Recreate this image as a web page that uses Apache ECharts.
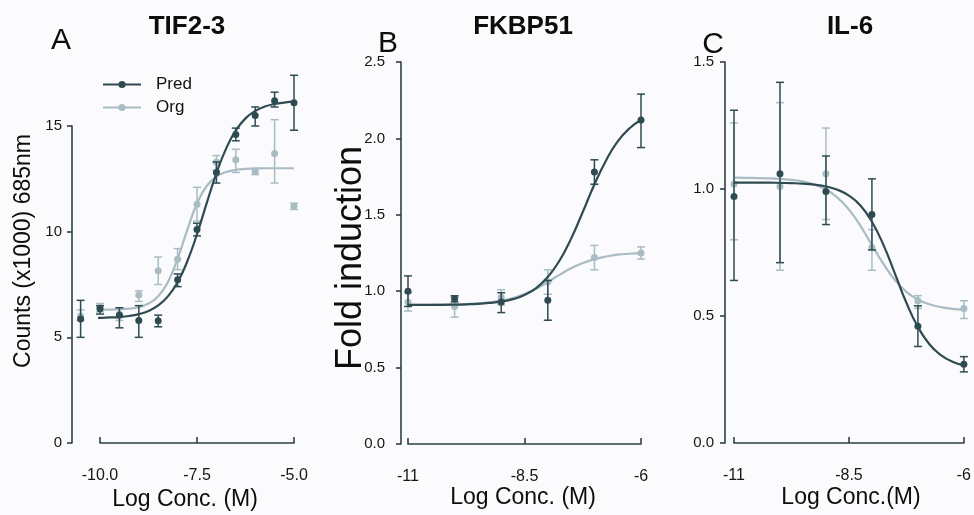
<!DOCTYPE html>
<html>
<head>
<meta charset="utf-8">
<script src="https://cdn.jsdelivr.net/npm/echarts@6/dist/echarts.min.js"></script>
<style>
html,body{margin:0;padding:0;background:#fbfbfd;}
#chart{width:974px;height:515px;}
</style>
</head>
<body>
<div id="chart"></div>
<script>
// ---------- Data ----------
const panelTitles = ['TIF2-3', 'FKBP51', 'IL-6'];
const panelLetters = ['A', 'B', 'C'];
const yAxisTitles = ['Counts (x1000) 685nm', 'Fold induction', ''];
const xAxisTitles = ['Log Conc. (M)', 'Log Conc. (M)', 'Log Conc.(M)'];
const seriesNames = ['Pred', 'Org'];

// Panel A (TIF2-3)
const xA = [-10.5, -10, -9.5, -9, -8.5, -8, -7.5, -7, -6.5, -6, -5.5, -5];
const predA   = [5.87, 6.35, 6.05, 5.80, 5.78, 7.72, 10.10, 12.80, 14.60, 15.50, 16.20, 16.10];
const predAHi = [6.75, 6.50, 6.40, 6.50, 6.05, 8.00, 10.40, 13.30, 14.90, 15.90, 16.60, 17.40];
const predALo = [5.00, 6.10, 5.45, 5.00, 5.50, 7.40, 9.80, 12.30, 14.30, 15.00, 15.90, 14.80];
const orgA    = [6.00, 6.40, 6.10, 7.00, 8.15, 8.70, 11.30, 13.30, 13.40, 12.85, 13.70, 11.20];
const orgAHi  = [6.30, 6.60, 6.40, 7.20, 8.80, 9.20, 12.10, 13.60, 13.90, 13.00, 15.30, 11.35];
const orgALo  = [5.80, 6.20, 5.80, 6.70, 7.50, 8.20, 10.50, 12.90, 12.80, 12.70, 12.30, 11.05];
const fitXA = [-10.5, -10.25, -10, -9.75, -9.5, -9.25, -9, -8.75, -8.5, -8.25, -8, -7.75, -7.5, -7.25, -7, -6.75, -6.5, -6.25, -6, -5.75, -5.5, -5.25, -5];
const predFitA = [5.91, 5.91, 5.92, 5.94, 5.96, 6.01, 6.10, 6.25, 6.51, 6.94, 7.61, 8.60, 9.88, 11.35, 12.76, 13.93, 14.79, 15.36, 15.71, 15.92, 16.04, 16.11, 16.15];
const orgFitA  = [6.30, 6.30, 6.31, 6.31, 6.33, 6.36, 6.43, 6.60, 6.94, 7.62, 8.72, 10.09, 11.33, 12.16, 12.60, 12.82, 12.92, 12.97, 12.99, 13.00, 13.00, 13.00, 13.00];

// Panel B (FKBP51)
const xB = [-11, -10, -9, -8, -7, -6];
const predB   = [1.00, 0.95, 0.93, 0.94, 1.78, 2.12];
const predBHi = [1.10, 0.97, 0.99, 1.07, 1.86, 2.29];
const predBLo = [0.90, 0.93, 0.86, 0.81, 1.70, 1.94];
const orgB    = [0.93, 0.90, 0.96, 1.06, 1.22, 1.25];
const orgBHi  = [0.99, 0.96, 1.01, 1.14, 1.30, 1.29];
const orgBLo  = [0.87, 0.83, 0.91, 0.98, 1.14, 1.21];
const fitXBC = [-11, -10.75, -10.5, -10.25, -10, -9.75, -9.5, -9.25, -9, -8.75, -8.5, -8.25, -8, -7.75, -7.5, -7.25, -7, -6.75, -6.5, -6.25, -6];
const predFitB = [0.910, 0.910, 0.911, 0.911, 0.912, 0.914, 0.917, 0.923, 0.932, 0.948, 0.975, 1.020, 1.093, 1.199, 1.344, 1.518, 1.698, 1.856, 1.980, 2.065, 2.120];
const orgFitB  = [0.910, 0.910, 0.911, 0.912, 0.913, 0.916, 0.920, 0.927, 0.938, 0.955, 0.982, 1.016, 1.060, 1.107, 1.150, 1.184, 1.210, 1.227, 1.239, 1.245, 1.249];

// Panel C (IL-6)
const xC = [-11, -10, -9, -8, -7, -6];
const predC   = [0.97, 1.06, 0.99, 0.90, 0.46, 0.31];
const predCHi = [1.31, 1.42, 1.13, 1.04, 0.54, 0.34];
const predCLo = [0.64, 0.71, 0.86, 0.76, 0.38, 0.28];
const orgC    = [1.02, 1.01, 1.06, 0.77, 0.56, 0.53];
const orgCHi  = [1.26, 1.34, 1.24, 0.84, 0.58, 0.56];
const orgCLo  = [0.80, 0.68, 0.88, 0.68, 0.53, 0.49];
const predFitC = [1.025, 1.025, 1.025, 1.025, 1.024, 1.023, 1.021, 1.017, 1.010, 0.997, 0.974, 0.935, 0.871, 0.780, 0.667, 0.552, 0.457, 0.389, 0.346, 0.320, 0.306];
const orgFitC  = [1.045, 1.044, 1.043, 1.042, 1.040, 1.036, 1.030, 1.018, 0.998, 0.966, 0.919, 0.855, 0.779, 0.705, 0.642, 0.595, 0.565, 0.546, 0.535, 0.528, 0.525];

// Axis ticks
const xTicksA = [-10, -7.5, -5];
const xTicksBC = [-11, -8.5, -6];
const yTicksA = [0, 5, 10, 15];
const yTicksB = [0, 0.5, 1.0, 1.5, 2.0, 2.5];
const yTicksC = [0, 0.5, 1.0, 1.5];

// ---------- Styles ----------
const DARK = '#2f4b52';
const LIGHT = '#a9bcc3';
const AXIS = '#2c4046';
const TXT = '#161616';
const FONT = '"Liberation Sans", Arial, Helvetica, sans-serif';

const pairs = (xs, ys) => xs.map((x, i) => [x, ys[i]]);
const triples = (xs, lo, hi) => xs.map((x, i) => [x, lo[i], hi[i]]);

function errRender(color) {
  return function (params, api) {
    const x = api.value(0), lo = api.value(1), hi = api.value(2);
    const a = api.coord([x, hi]);
    const b = api.coord([x, lo]);
    const w = 4;
    const st = { stroke: color, lineWidth: 1.5 };
    return {
      type: 'group',
      children: [
        { type: 'line', shape: { x1: a[0], y1: a[1], x2: b[0], y2: b[1] }, style: st },
        { type: 'line', shape: { x1: a[0] - w, y1: a[1], x2: a[0] + w, y2: a[1] }, style: st },
        { type: 'line', shape: { x1: b[0] - w, y1: b[1], x2: b[0] + w, y2: b[1] }, style: st }
      ]
    };
  };
}

const panels = [
  { x: xA, pred: predA, predHi: predAHi, predLo: predALo, org: orgA, orgHi: orgAHi, orgLo: orgALo,
    fitX: fitXA, predFit: predFitA, orgFit: orgFitA },
  { x: xB, pred: predB, predHi: predBHi, predLo: predBLo, org: orgB, orgHi: orgBHi, orgLo: orgBLo,
    fitX: fitXBC, predFit: predFitB, orgFit: orgFitB },
  { x: xC, pred: predC, predHi: predCHi, predLo: predCLo, org: orgC, orgHi: orgCHi, orgLo: orgCLo,
    fitX: fitXBC, predFit: predFitC, orgFit: orgFitC }
];

const grids = [
  { left: 100, top: 126, width: 194, height: 317 },
  { left: 408, top: 62, width: 233, height: 382 },
  { left: 734, top: 62, width: 233, height: 381 }
];

const xCfg = [
  { min: -10, max: -5, ticks: xTicksA, fmt: v => v.toFixed(1) },
  { min: -11, max: -6, ticks: xTicksBC, fmt: v => String(v) },
  { min: -11, max: -6, ticks: xTicksBC, fmt: v => String(v) }
];
const yCfg = [
  { min: 0, max: 15, ticks: yTicksA, fmt: v => String(v), offset: 28, margin: 10 },
  { min: 0, max: 2.5, ticks: yTicksB, fmt: v => v.toFixed(1), offset: 7, margin: 16 },
  { min: 0, max: 1.5, ticks: yTicksC, fmt: v => v.toFixed(1), offset: 9, margin: 11 }
];

const axisLineStyle = { color: AXIS, width: 1.6 };

const xAxes = xCfg.map((c, i) => ({
  type: 'value', gridIndex: i, min: c.min, max: c.max, offset: 17,
  axisLine: { show: true, lineStyle: axisLineStyle },
  axisTick: { show: true, inside: true, length: 6, lineStyle: axisLineStyle, customValues: c.ticks },
  axisLabel: { show: true, margin: 8, fontSize: 16, color: TXT, fontFamily: FONT, customValues: c.ticks,
    formatter: c.fmt },
  splitLine: { show: false }
}));
const yAxes = yCfg.map((c, i) => ({
  type: 'value', gridIndex: i, min: c.min, max: c.max, offset: c.offset,
  axisLine: { show: true, lineStyle: axisLineStyle },
  axisTick: { show: true, inside: false, length: 5, lineStyle: axisLineStyle, customValues: c.ticks },
  axisLabel: { show: true, margin: c.margin, fontSize: 15, color: TXT, fontFamily: FONT, customValues: c.ticks,
    formatter: c.fmt },
  splitLine: { show: false }
}));

const series = [];
panels.forEach((p, i) => {
  series.push({
    name: 'Org', type: 'line', xAxisIndex: i, yAxisIndex: i, data: pairs(p.fitX, p.orgFit),
    smooth: true, symbol: 'circle', symbolSize: 7, showSymbol: false, clip: false, color: LIGHT,
    lineStyle: { color: LIGHT, width: 2.2 }, itemStyle: { color: LIGHT }, z: 2, silent: true
  });
  series.push({
    type: 'custom', xAxisIndex: i, yAxisIndex: i, data: triples(p.x, p.orgLo, p.orgHi),
    renderItem: errRender(LIGHT), encode: { x: 0, y: [1, 2] }, clip: false, z: 2, silent: true
  });
  series.push({
    type: 'scatter', xAxisIndex: i, yAxisIndex: i, data: pairs(p.x, p.org), symbolSize: 7,
    clip: false, itemStyle: { color: LIGHT, opacity: 1 }, z: 3, silent: true
  });
  series.push({
    name: 'Pred', type: 'line', xAxisIndex: i, yAxisIndex: i, data: pairs(p.fitX, p.predFit),
    smooth: true, symbol: 'circle', symbolSize: 7, showSymbol: false, clip: false, color: DARK,
    lineStyle: { color: DARK, width: 2.2 }, itemStyle: { color: DARK }, z: 4, silent: true
  });
  series.push({
    type: 'custom', xAxisIndex: i, yAxisIndex: i, data: triples(p.x, p.predLo, p.predHi),
    renderItem: errRender(DARK), encode: { x: 0, y: [1, 2] }, clip: false, z: 4, silent: true
  });
  series.push({
    type: 'scatter', xAxisIndex: i, yAxisIndex: i, data: pairs(p.x, p.pred), symbolSize: 7,
    clip: false, itemStyle: { color: DARK, opacity: 1 }, z: 5, silent: true
  });
});

const titleCenters = [[187, 27], [523, 27], [850, 27]];
const letterPos = [[61, 41], [388, 44], [713, 45]];
const xTitlePos = [[185, 500], [523, 498], [851, 498]];

const graphics = [];
panelTitles.forEach((t, i) => graphics.push({
  type: 'text', x: titleCenters[i][0], y: titleCenters[i][1],
  style: { text: t, font: 'bold 26px ' + FONT, fill: '#0d0d0d', textAlign: 'center', textVerticalAlign: 'middle' }
}));
panelLetters.forEach((t, i) => graphics.push({
  type: 'text', x: letterPos[i][0], y: letterPos[i][1],
  style: { text: t, font: '30px ' + FONT, fill: '#0d0d0d', textAlign: 'center', textVerticalAlign: 'middle' }
}));
xAxisTitles.forEach((t, i) => graphics.push({
  type: 'text', x: xTitlePos[i][0], y: xTitlePos[i][1],
  style: { text: t, font: '23px ' + FONT, fill: '#0d0d0d', textAlign: 'center', textVerticalAlign: 'middle' }
}));
graphics.push({
  type: 'text', x: 24, y: 251, rotation: Math.PI / 2,
  style: { text: yAxisTitles[0], font: '23px ' + FONT, fill: '#0d0d0d', textAlign: 'center', textVerticalAlign: 'middle' }
});
graphics.push({
  type: 'text', x: 351, y: 258, rotation: Math.PI / 2,
  style: { text: yAxisTitles[1], font: '36px ' + FONT, fill: '#0d0d0d', textAlign: 'center', textVerticalAlign: 'middle' }
});

const chart = echarts.init(document.getElementById('chart'), null, { renderer: 'canvas' });
chart.setOption({
  backgroundColor: '#fbfbfd',
  animation: false,
  textStyle: { fontFamily: FONT },
  grid: grids,
  xAxis: xAxes,
  yAxis: yAxes,
  legend: {
    data: seriesNames, orient: 'vertical', left: 102, top: 76, itemWidth: 38, itemHeight: 9, itemGap: 6,
    padding: 0, selectedMode: false,
    textStyle: { fontSize: 17, color: '#111', fontFamily: FONT, padding: [0, 0, 0, 10] }
  },
  series: series,
  graphic: graphics
});
</script>
</body>
</html>
